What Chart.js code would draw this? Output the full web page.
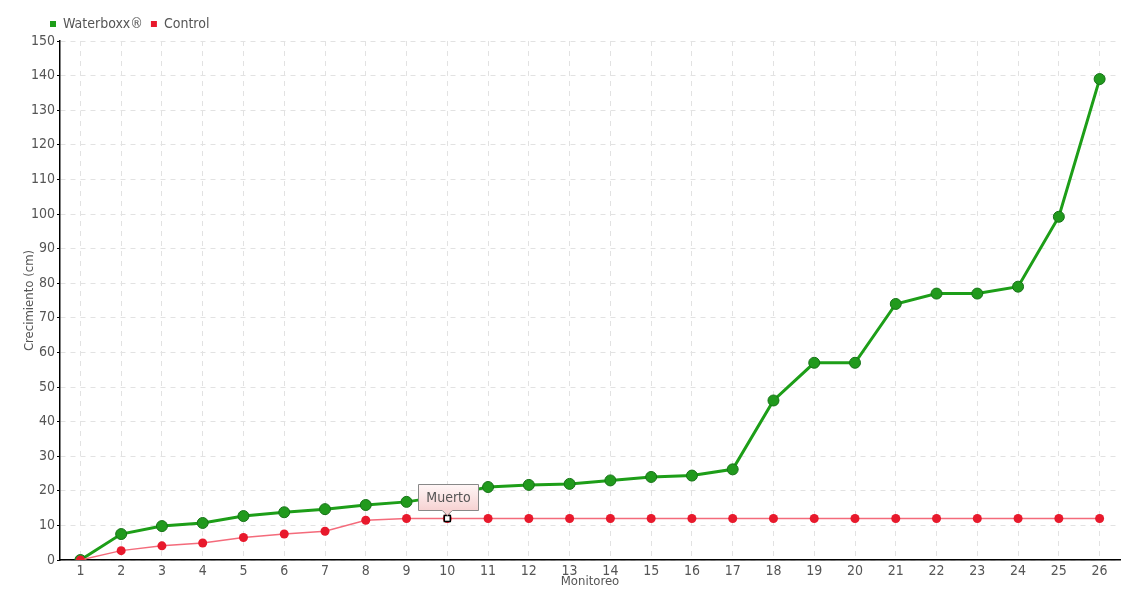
<!DOCTYPE html>
<html><head><meta charset="utf-8">
<script src="https://cdn.jsdelivr.net/npm/chart.js@4"></script>
<style>html,body{margin:0;padding:0;background:#fff}#wrap{width:1140px;height:600px}</style>
</head><body><div id="wrap"><canvas id="c"></canvas></div>
<script>
const categories = ["1","2","3","4","5","6","7","8","9","10","11","12","13","14","15","16","17","18","19","20","21","22","23","24","25","26"];
const waterboxx = [0,7.5,9.8,10.7,12.7,13.8,14.7,15.9,16.8,18.6,21.1,21.7,22,23,24,24.4,26.2,46.1,57,57,74,77,77,79,99.2,139];
const control = [0,2.7,4.1,4.9,6.5,7.5,8.3,11.5,12,12,12,12,12,12,12,12,12,12,12,12,12,12,12,12,12,12];
const yTicks = [0,10,20,30,40,50,60,70,80,90,100,110,120,130,140,150];
const noteIndex = 9;
const noteText = "Muerto";

const FONT = "'DejaVu Sans Condensed','Liberation Sans',sans-serif";
Chart.defaults.font.family = FONT;
Chart.defaults.color = '#555';

const notePlugin = {
  id: 'note',
  afterLayout(chart) {
    const lg = chart.legend;
    const shift = chart.chartArea.left - 10 - lg.left - 8;
    lg.left += shift; lg.right += shift;
  },
  afterDatasetsDraw(chart) {
    const ctx = chart.ctx;
    const x = chart.scales.x.getPixelForValue(noteIndex);
    const y = chart.scales.y.getPixelForValue(control[noteIndex]);
    ctx.save();
    ctx.fillStyle = '#fff'; ctx.strokeStyle = '#000'; ctx.lineWidth = 1.5;
    ctx.fillRect(x-3, y-3, 6, 6); ctx.strokeRect(x-3, y-3, 6, 6);
    const w = 60, h = 26, bx = Math.round(x - 29) + 0.5, by = Math.round(y - 34) + 0.5;
    const g = ctx.createLinearGradient(0, by, 0, by + h);
    g.addColorStop(0, '#fff6f6'); g.addColorStop(1, '#f6d2d2');
    ctx.beginPath();
    ctx.moveTo(bx, by); ctx.lineTo(bx + w, by); ctx.lineTo(bx + w, by + h);
    ctx.lineTo(x + 5, by + h); ctx.lineTo(x, by + h + 5); ctx.lineTo(x - 5, by + h);
    ctx.lineTo(bx, by + h); ctx.closePath();
    ctx.fillStyle = g; ctx.fill();
    ctx.strokeStyle = '#888'; ctx.lineWidth = 1; ctx.stroke();
    ctx.fillStyle = '#555'; ctx.font = '14px ' + FONT;
    ctx.textAlign = 'center'; ctx.textBaseline = 'middle';
    ctx.fillText(noteText, bx + w / 2, by + h / 2 + 1);
    ctx.restore();
  }
};

new Chart(document.getElementById('c'), {
  type: 'line',
  data: {
    labels: categories,
    datasets: [
      {
        label: 'Waterboxx®', data: waterboxx,
        borderColor: '#1d9e18', backgroundColor: '#1d9e18', borderWidth: 3,
        pointRadius: 5.5, pointHoverRadius: 5.5, pointBackgroundColor: '#219a1d',
        pointBorderColor: '#167317', pointBorderWidth: 1, tension: 0, order: 2
      },
      {
        label: 'Control', data: control,
        borderColor: '#f46b7b', backgroundColor: '#e8192c', borderWidth: 1.4,
        pointRadius: 4.5, pointHoverRadius: 4.5, pointBackgroundColor: '#e8192c',
        pointBorderColor: '#e8192c', pointBorderWidth: 0, tension: 0, order: 1
      }
    ]
  },
  options: {
    responsive: true, maintainAspectRatio: false, animation: false,
    layout: { padding: { left: 20, right: 20, top: 9, bottom: 4 } },
    plugins: {
      legend: {
        position: 'top', align: 'start',
        labels: {
          boxWidth: 6, boxHeight: 6, padding: 8, color: '#555',
          font: { size: 14 },
          generateLabels(chart) {
            return chart.data.datasets.map((d, i) => ({
              text: d.label, fillStyle: d.backgroundColor, strokeStyle: d.backgroundColor,
              fontColor: '#555', lineWidth: 0, datasetIndex: i, hidden: false
            }));
          }
        }
      },
      tooltip: { enabled: false }
    },
    scales: {
      x: {
        offset: true,
        grid: { offset: false, color: '#e2e2e2', drawTicks: false },
        border: { color: '#000', width: 1.5, dash: [5, 5] },
        ticks: { color: '#555', font: { size: 14 }, padding: 3, maxRotation: 0, autoSkip: false },
        title: { display: true, text: 'Monitoreo', color: '#555', font: { size: 13 }, padding: { top: 0, bottom: 7 } },
        afterFit(axis) { axis.height = 36; }
      },
      y: {
        min: 0, max: 150,
        afterBuildTicks(axis) { axis.ticks = yTicks.map(v => ({ value: v })); },
        grid: { color: '#e2e2e2', tickColor: '#000', tickLength: 3, tickBorderDash: [] },
        border: { color: '#000', width: 1.5, dash: [5, 5] },
        ticks: { color: '#555', font: { size: 14 }, padding: 2 },
        title: { display: true, text: 'Crecimiento (cm)', color: '#555', font: { size: 13 }, padding: { top: 2, bottom: 0 } },
        afterFit(axis) { axis.width = 40; }
      }
    }
  },
  plugins: [notePlugin]
});
</script></body></html>
